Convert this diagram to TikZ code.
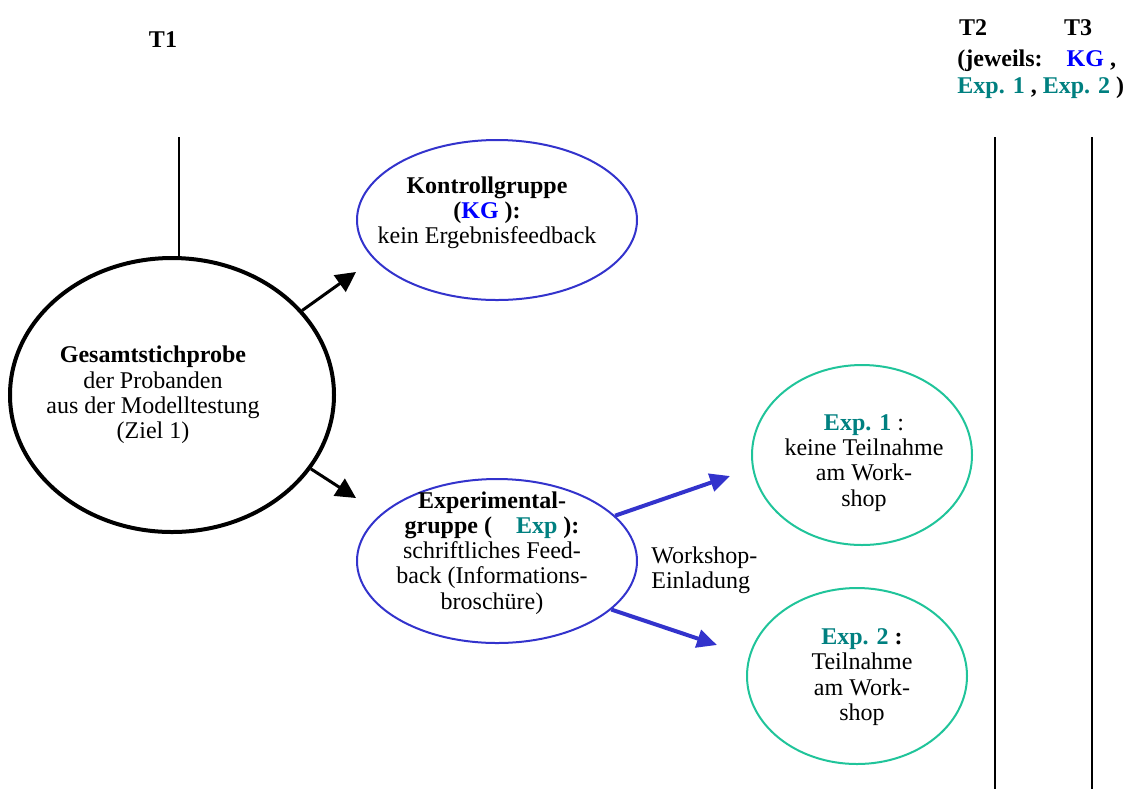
\documentclass[tikz,border=0pt]{standalone}
\usepackage{fontspec}
\setmainfont{Liberation Serif}
\usetikzlibrary{shapes.geometric, arrows.meta}
\definecolor{kgblue}{HTML}{3333CC}
\definecolor{kgtext}{HTML}{0000FF}
\definecolor{expline}{HTML}{20C49A}
\definecolor{exptext}{HTML}{008080}
\tikzset{
    grp/.style={ellipse, draw=kgblue, line width=1pt, inner sep=0pt},
    sub/.style={ellipse, draw=expline, line width=1pt, inner sep=0pt},
    txt/.style={align=center, inner sep=0pt, font=\fontsize{12}{12.6}\selectfont},
    arr/.style={-{Triangle[length=10pt,width=10pt]}, line width=1.5pt},
    barr/.style={-{Triangle[length=10pt,width=9pt]}, line width=2pt, kgblue},
}
\newcommand{\kg}{\textcolor{kgtext}{KG}}
\newcommand{\ex}[1]{\textcolor{exptext}{#1}}

\begin{document}
\begin{tikzpicture}[x=0.5pt, y=-0.5pt]
    \useasboundingbox (0,0) rectangle (1135,789);
    % time points
    \node[txt, font=\fontsize{12}{12.6}\selectfont\bfseries] (t1) at (163,40) {T1};
    \node[txt, font=\fontsize{12}{12.6}\selectfont\bfseries] (t2) at (973,28) {T2};
    \node[txt, font=\fontsize{12}{12.6}\selectfont\bfseries] (t3) at (1078,28) {T3};
    \node[txt, align=left, anchor=west, font=\fontsize{12}{13.5}\selectfont\bfseries] (jw) at (957,74)
        {(jeweils:\quad\kg\ ,\\ \ex{Exp. 1}\ , \ex{Exp. 2}\ )};
    \draw[line width=0.75pt] (179,137) -- (179,259);
    \draw[line width=1pt] (995,137) -- (995,789);
    \draw[line width=1pt] (1092,137) -- (1092,789);

    % groups
    \node[ellipse, draw, line width=2pt, inner sep=0pt, minimum width=162pt, minimum height=137pt] (gs) at (172,395) {};
    \node[grp, minimum width=140pt, minimum height=80pt] (kg) at (497,220) {};
    \node[grp, minimum width=140pt, minimum height=82pt] (exp) at (497,561) {};
    \node[sub, minimum width=110pt, minimum height=90pt] (exp1) at (862,455) {};
    \node[sub, minimum width=110pt, minimum height=88pt] (exp2) at (857,676) {};

    \node[txt] (gstext) at (153,395) {\textbf{Gesamtstichprobe}\\der Probanden\\aus der Modelltestung\\(Ziel 1)};
    \node[txt] (kgtxt) at (487,213) {\textbf{Kontrollgruppe}\\\textbf{(\kg\ ):}\\kein Ergebnisfeedback};
    \node[txt] (exptxt) at (492,553) {\textbf{Experimental-}\\\textbf{gruppe (\quad\ex{Exp}\ ):}\\schriftliches Feed-\\back (Informations-\\broschüre)};
    \node[txt] (exp1txt) at (864,463) {\textbf{\ex{Exp. 1}}\ :\\keine Teilnahme\\am Work-\\shop};
    \node[txt] (exp2txt) at (862,677) {\textbf{\ex{Exp. 2}\ :}\\Teilnahme\\am Work-\\shop};
    \node[txt, align=left, anchor=west] (ws) at (651,570) {Workshop-\\Einladung};

    % arrows
    \coordinate (kgtip) at (356,272);
    \coordinate (exptip) at (356,498);
    \coordinate (exp1tip) at (730,476);
    \coordinate (exp2tip) at (717,645);
    \draw[arr] (gs.33) -- (kgtip);
    \draw[arr] (gs.-28) -- (exptip);
    \draw[barr] (exp.21) -- (exp1tip);
    \draw[barr] (exp.-23) -- (exp2tip);
\end{tikzpicture}
\end{document}
